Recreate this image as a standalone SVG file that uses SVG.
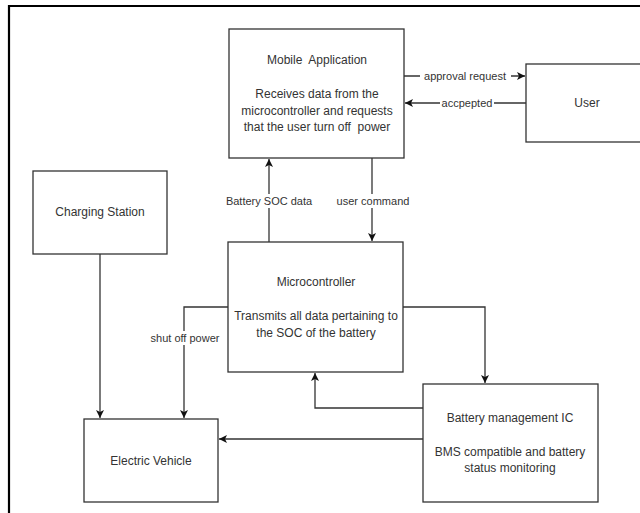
<svg xmlns="http://www.w3.org/2000/svg" width="640" height="513" viewBox="0 0 640 513">
<defs>
<style>
.box{fill:#fff;stroke:#333;stroke-width:1.3}
.t{font-family:"Liberation Sans",Arial,sans-serif;font-size:12px;fill:#333;text-anchor:middle}
.c{fill:none;stroke:#333;stroke-width:1.3}
.lbl{font-family:"Liberation Sans",Arial,sans-serif;font-size:11px;fill:#333;text-anchor:middle}
.bg{fill:#fff}
</style>
<marker id="ah" viewBox="0 0 10 10" refX="10" refY="5" markerWidth="8" markerHeight="8" markerUnits="userSpaceOnUse" orient="auto">
<path d="M0,0 L10,5 L0,10 L2.5,5 Z" fill="#111"/>
</marker>
</defs>
<rect width="640" height="513" fill="#fff"/>
<path d="M9,513 V6 H640" fill="none" stroke="#000" stroke-width="2.2"/>
<g id="connectors">
<line class="c" x1="404" y1="76" x2="525" y2="76" marker-end="url(#ah)"/>
<line class="c" x1="526" y1="103" x2="405" y2="103" marker-end="url(#ah)"/>
<line class="c" x1="269" y1="242" x2="269" y2="159" marker-end="url(#ah)"/>
<line class="c" x1="372" y1="158" x2="372" y2="241" marker-end="url(#ah)"/>
<line class="c" x1="100" y1="254" x2="100" y2="418" marker-end="url(#ah)"/>
<polyline class="c" points="228,307 184,307 184,418" marker-end="url(#ah)"/>
<polyline class="c" points="403,307 485,307 485,383" marker-end="url(#ah)"/>
<polyline class="c" points="423,408 315,408 315,373" marker-end="url(#ah)"/>
<line class="c" x1="423" y1="439" x2="219" y2="439" marker-end="url(#ah)"/>
<rect class="bg" x="420" y="69" width="91" height="14"/>
<text class="lbl" x="465" y="80">approval request</text>
<rect class="bg" x="440" y="96" width="54" height="14"/>
<text class="lbl" x="467" y="107">accpepted</text>
<rect class="bg" x="221" y="194" width="96" height="14"/>
<text class="lbl" x="269" y="205">Battery SOC data</text>
<rect class="bg" x="334" y="194" width="78" height="14"/>
<text class="lbl" x="373" y="205">user command</text>
<rect class="bg" x="146" y="331" width="78" height="14"/>
<text class="lbl" x="185" y="342">shut off power</text>
</g>
<g id="mobile">
<rect class="box" x="229" y="29" width="175" height="129"/>
<text class="t" x="317" y="64" xml:space="preserve">Mobile  Application</text>
<text class="t" x="317" y="98">Receives data from the</text>
<text class="t" x="317" y="115">microcontroller and requests</text>
<text class="t" x="317" y="131" xml:space="preserve">that the user turn off  power</text>
</g>
<g id="user">
<rect class="box" x="526" y="64" width="120" height="78"/>
<text class="t" x="587" y="107">User</text>
</g>
<g id="charging">
<rect class="box" x="33" y="171" width="134" height="83"/>
<text class="t" x="100" y="216">Charging Station</text>
</g>
<g id="micro">
<rect class="box" x="228" y="242" width="175" height="130"/>
<text class="t" x="316" y="286">Microcontroller</text>
<text class="t" x="316" y="320">Transmits all data pertaining to</text>
<text class="t" x="316" y="337">the SOC of the battery</text>
</g>
<g id="ev">
<rect class="box" x="84" y="419" width="134" height="83"/>
<text class="t" x="151" y="465">Electric Vehicle</text>
</g>
<g id="bms">
<rect class="box" x="423" y="384" width="175" height="118"/>
<text class="t" x="510" y="422">Battery management IC</text>
<text class="t" x="510" y="456">BMS compatible and battery</text>
<text class="t" x="510" y="472">status monitoring</text>
</g>
</svg>
